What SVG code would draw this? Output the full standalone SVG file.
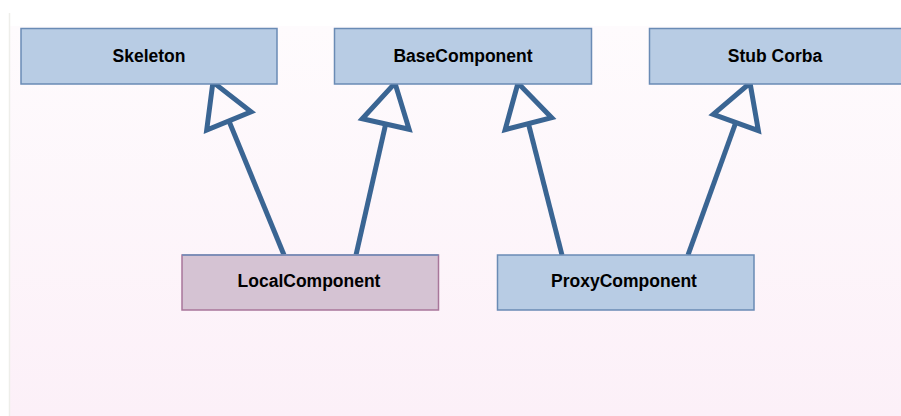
<svg xmlns="http://www.w3.org/2000/svg" width="901" height="416" viewBox="0 0 901 416">
<defs>
<linearGradient id="bg" x1="0" y1="0" x2="0" y2="1">
<stop offset="0" stop-color="#fefbfd"/>
<stop offset="1" stop-color="#fcf0f8"/>
</linearGradient>
<marker id="tri" markerUnits="userSpaceOnUse" orient="auto" refX="0" refY="0" markerWidth="60" markerHeight="60" overflow="visible">
<path d="M0,-24 L42,0 L0,24 Z" fill="none" stroke="#3a6593" stroke-width="5" stroke-linejoin="miter"/>
</marker>
<style>
.box{fill:#b8cce4;stroke:#6a8bb5;stroke-width:1.5}
.local{fill:#d5c3d3;stroke:#a8769a;stroke-width:1.5}
.lbl{font-family:"Liberation Sans",Arial,sans-serif;font-weight:bold;font-size:17.5px;fill:#000;text-anchor:middle}
.edge{stroke:#3a6593;stroke-width:5;fill:none;marker-end:url(#tri)}
</style>
</defs>
<rect x="0" y="0" width="901" height="416" fill="#ffffff"/>
<rect x="10" y="26" width="891" height="390" fill="url(#bg)"/>
<line x1="9.5" y1="13" x2="9.5" y2="416" stroke="#eeeeea" stroke-width="1.5"/>
<g id="connectors">
<line class="edge" x1="284" y1="255" x2="228.9" y2="120.9"/>
<line class="edge" x1="356" y1="255" x2="385.7" y2="124.0"/>
<line class="edge" x1="562" y1="255" x2="528.4" y2="123.7"/>
<line class="edge" x1="688" y1="255" x2="735.8" y2="122.5"/>
</g>
<g id="Skeleton">
<rect class="box" x="21" y="28.5" width="256" height="55.5"/>
<text class="lbl" x="149" y="61.5">Skeleton</text>
</g>
<g id="BaseComponent">
<rect class="box" x="334.5" y="28.5" width="257" height="55.5"/>
<text class="lbl" x="463" y="61.5">BaseComponent</text>
</g>
<g id="StubCorba">
<rect class="box" x="649.5" y="28.5" width="256" height="55.5"/>
<text class="lbl" x="775" y="61.5">Stub Corba</text>
</g>
<g id="LocalComponent">
<rect class="local" x="182" y="255" width="256.5" height="55"/>
<line x1="182" y1="255" x2="438.5" y2="255" stroke="#6d8fbb" stroke-width="1.5"/>
<text class="lbl" x="309" y="287">LocalComponent</text>
</g>
<g id="ProxyComponent">
<rect class="box" x="497.5" y="255" width="256.5" height="55"/>
<text class="lbl" x="624" y="287">ProxyComponent</text>
</g>
</svg>
